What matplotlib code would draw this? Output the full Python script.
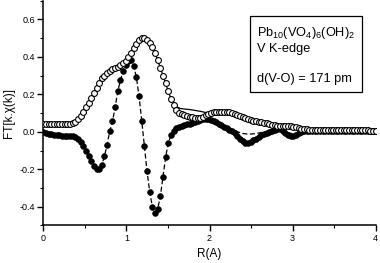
import numpy as np
import matplotlib
matplotlib.use("Agg")
import matplotlib.pyplot as plt
from matplotlib.ticker import MultipleLocator

plt.rcParams['font.family'] = ['Liberation Sans', 'DejaVu Sans']
plt.rcParams['mathtext.fontset'] = 'custom'
plt.rcParams['mathtext.rm'] = 'Liberation Sans'
plt.rcParams['mathtext.it'] = 'Liberation Sans'

# sampling grid of the Fourier transform (R in Angstrom)
R = np.linspace(0.0, 4.0, 126)

# |FT| (open circles)
ft_mag = [
    0.043, 0.043, 0.043, 0.042, 0.042, 0.041, 0.041, 0.041, 0.041, 0.042,
    0.043, 0.046, 0.054, 0.068, 0.085, 0.106, 0.130, 0.156, 0.181, 0.208,
    0.236, 0.262, 0.285, 0.300, 0.314, 0.325, 0.335, 0.342, 0.348, 0.354,
    0.365, 0.378, 0.398, 0.420, 0.445, 0.470, 0.488, 0.498, 0.501, 0.492,
    0.476, 0.452, 0.420, 0.382, 0.342, 0.300, 0.258, 0.215, 0.176, 0.142,
    0.118, 0.102, 0.094, 0.088, 0.084, 0.080, 0.077, 0.074, 0.073, 0.075,
    0.080, 0.087, 0.094, 0.099, 0.103, 0.105, 0.107, 0.108, 0.108, 0.106,
    0.103, 0.100, 0.096, 0.091, 0.085, 0.079, 0.073, 0.067, 0.062, 0.058,
    0.055, 0.052, 0.050, 0.048, 0.045, 0.041, 0.037, 0.034, 0.032, 0.030,
    0.030, 0.030, 0.030, 0.029, 0.027, 0.024, 0.020, 0.017, 0.015, 0.013,
    0.012, 0.011, 0.010, 0.009, 0.008, 0.008, 0.007, 0.007, 0.007, 0.007,
    0.007, 0.008, 0.009, 0.010, 0.011, 0.012, 0.012, 0.012, 0.011, 0.010,
    0.009, 0.008, 0.007, 0.006, 0.005, 0.004,
]

# Im/Re part of FT (filled circles)
ft_real = [
    0.000, -0.006, -0.011, -0.014, -0.016, -0.018, -0.019, -0.020, -0.020, -0.021,
    -0.022, -0.024, -0.029, -0.038, -0.053, -0.075, -0.100, -0.128, -0.155, -0.180,
    -0.197, -0.199, -0.176, -0.130, -0.068, 0.005, 0.055, 0.130, 0.215, 0.275,
    0.325, 0.358, 0.380, 0.385, 0.350, 0.290, 0.190, 0.060, -0.075, -0.210,
    -0.320, -0.400, -0.432, -0.412, -0.345, -0.240, -0.135, -0.060, -0.018, 0.005,
    0.018, 0.026, 0.031, 0.035, 0.039, 0.043, 0.047, 0.051, 0.056, 0.062,
    0.067, 0.070, 0.069, 0.065, 0.058, 0.050, 0.042, 0.035, 0.027, 0.020,
    0.012, 0.003, -0.008, -0.022, -0.037, -0.050, -0.058, -0.060, -0.055, -0.046,
    -0.036, -0.027, -0.019, -0.012, -0.006, 0.000, 0.006, 0.012, 0.016, 0.015,
    0.005, -0.008, -0.017, -0.021, -0.020, -0.015, -0.008, -0.002, 0.002, 0.004,
    0.005, 0.005, 0.004, 0.004, 0.003, 0.003, 0.003, 0.004, 0.004, 0.005,
    0.005, 0.004, 0.003, 0.003, 0.002, 0.002, 0.003, 0.003, 0.004, 0.004,
    0.003, 0.003, 0.002, 0.002, 0.002, 0.002,
]

# fitted curves in the region where they separate from the data
fit_R = [1.55, 1.60, 1.65, 1.70, 1.75, 1.80, 1.85, 1.90, 1.95, 2.00, 2.05, 2.10,
         2.15, 2.20, 2.25, 2.30, 2.35, 2.40, 2.45, 2.50, 2.55, 2.60, 2.65, 2.70,
         2.75, 2.80, 2.85, 2.90, 2.95, 3.00, 3.05, 3.10]
fit_mag = [0.172, 0.135, 0.124, 0.121, 0.119, 0.116, 0.112, 0.108, 0.103, 0.100,
           0.100, 0.101, 0.100, 0.097, 0.092, 0.085, 0.077, 0.068, 0.060, 0.054,
           0.049, 0.045, 0.041, 0.037, 0.034, 0.032, 0.030, 0.029, 0.027, 0.024,
           0.020, 0.016]
fit_real = [-0.010, 0.010, 0.022, 0.030, 0.037, 0.044, 0.050, 0.055, 0.058, 0.057,
            0.050, 0.042, 0.034, 0.026, 0.016, 0.007, -0.002, -0.009, -0.012, -0.012,
            -0.010, -0.006, -0.002, 0.002, 0.006, 0.009, 0.008, 0.002, -0.006, -0.010,
            -0.006, 0.000]

R_arr = np.asarray(R)
mag = np.asarray(ft_mag)
rea = np.asarray(ft_real)
fR = np.asarray(fit_R)
lo = R_arr < fR[0]
hi = R_arr > fR[-1]
line_R = np.concatenate([R_arr[lo], fR, R_arr[hi]])
line_mag = np.concatenate([mag[lo], np.asarray(fit_mag), mag[hi]])
line_real = np.concatenate([rea[lo], np.asarray(fit_real), rea[hi]])

fig = plt.figure(figsize=(3.8, 2.63), dpi=100)
ax = fig.add_axes([0.114, 0.1426, 0.8747, 0.8554])

ax.plot(line_R, line_real, color='black', lw=0.9, ls=(0, (4, 2)), zorder=2)
ax.plot(R_arr, rea, ls='none', marker='o', ms=4.1, mfc='black', mec='black',
        mew=0.5, zorder=3)
ax.plot(line_R, line_mag, color='black', lw=0.9, zorder=4)
ax.plot(R_arr, mag, ls='none', marker='o', ms=4.2, mfc='white', mec='black',
        mew=0.8, zorder=5)

ax.set_xlim(0, 4)
ax.set_ylim(-0.5, 0.7)
ax.xaxis.set_major_locator(MultipleLocator(1))
ax.xaxis.set_minor_locator(MultipleLocator(0.5))
ax.yaxis.set_major_locator(MultipleLocator(0.2))
ax.yaxis.set_minor_locator(MultipleLocator(0.1))
ax.set_yticks([-0.4, -0.2, 0.0, 0.2, 0.4, 0.6])
ax.set_yticklabels(['-0.4', '-0.2', '0.0', '0.2', '0.4', '0.6'])
ax.tick_params(which='major', direction='out', length=4, width=1.0,
               labelsize=6.5, pad=2)
ax.tick_params(which='minor', direction='out', length=2.5, width=0.8)
for s in ['top', 'right']:
    ax.spines[s].set_visible(False)
for s in ['left', 'bottom']:
    ax.spines[s].set_linewidth(1.1)

ax.set_xlabel('R(A)', fontsize=8.5, labelpad=4)
ax.set_ylabel('FT[k.χ(k)]', fontsize=8.5, labelpad=3)

ax.text(0.642, 0.893,
        'Pb$_{10}$(VO$_4$)$_6$(OH)$_2$\nV K-edge\n\nd(V-O) = 171 pm',
        transform=ax.transAxes, fontsize=9.2, va='top', ha='left',
        linespacing=1.3,
        bbox=dict(boxstyle='square,pad=0.55', fc='white', ec='black', lw=0.9))

fig.savefig('out.png', dpi=100)
